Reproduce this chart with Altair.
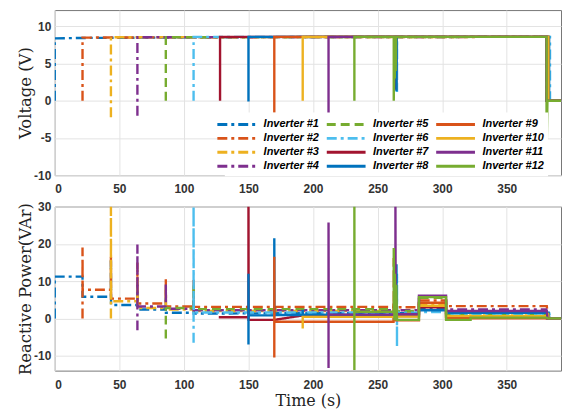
import altair as alt
import pandas as pd

inverters = [f"Inverter #{k}" for k in range(1, 13)]
colors = ["#0072BD", "#D95319", "#EDB120", "#7E2F8E", "#77AC30", "#4DBEEE",
          "#A2142F", "#0072BD", "#D95319", "#EDB120", "#7E2F8E", "#77AC30"]
dashdot = [10, 4, 3, 4]
dashed = [9, 5]
solid = [1, 0]
dashes = [dashdot, dashdot, dashdot, dashdot, dashed, dashdot,
          solid, solid, solid, solid, solid, solid]

x_ticks = [0, 50, 100, 150, 200, 250, 300, 350]
v_ticks = [-10, -5, 0, 5, 10]
q_ticks = [-10, 0, 10, 20, 30]

# ---- Voltage (V): (time, value) per inverter ----
voltage_1 = [(0, 0), (0, 8.4), (21.5, 8.45), (128, 8.55), (264.4, 8.6), (264.4, 1.4), (264.5, 8.6),
             (381.5, 8.6), (381.5, 0), (392, 0)]
voltage_2 = [(21.5, 0), (21.5, 8.5), (128, 8.55), (382, 8.6), (382, 0), (392, 0)]
voltage_3 = [(43.5, -2.2), (43.5, 8.55), (382.5, 8.6), (382.5, 0), (392, 0)]
voltage_4 = [(64, -2.0), (64, 8.55), (380.6, 8.6), (380.6, 0), (392, 0)]
voltage_5 = [(86, 0), (86, 8.55), (382, 8.6), (382, 0), (392, 0)]
voltage_6 = [(107.5, 0), (107.5, 8.6), (265, 8.6), (265, 1.2), (265.1, 8.6), (383.5, 8.6), (383.5, 0), (392, 0)]
voltage_7 = [(128, 0), (128, 8.6), (264.3, 8.6), (264.3, 1.5), (264.4, 8.6), (381, 8.6), (381, 0), (392, 0)]
voltage_8 = [(150, -0.1), (150, 8.6), (264.6, 8.6), (264.6, 1.3), (264.7, 8.6), (382.8, 8.6), (382.8, 0), (392, 0)]
voltage_9 = [(170, -1.6), (170, 8.6), (382, 8.6), (382, 0), (392, 0)]
voltage_10 = [(192, 0), (192, 8.6), (382.2, 8.6), (382.2, 0), (392, 0)]
voltage_11 = [(212, -1.9), (212, 8.6), (380.6, 8.6), (380.6, 0), (392, 0)]
voltage_12 = [(232, 0), (232, 8.6), (262.5, 8.6), (262.5, 0), (263, 8.6), (263.3, 3), (263.6, 8.6),
              (264, 4), (264.3, 8.6), (380.8, 8.6), (380.8, -7.6), (381.5, 0), (392, 0)]

# ---- Reactive power (VAr): (time, value) per inverter ----
reactive_1 = [(0, 0), (0, 11.2), (21.5, 11.2), (21.5, 5.8), (43.5, 5.8), (43.5, 15.5), (43.6, 3.6), (64, 3.6),
              (64, 9), (64.1, 2.4), (86, 2.4), (86, 6), (86.1, 1.5), (107.5, 1.5), (107.5, 5), (107.6, 1.3),
              (192, 1.4), (262.8, 1.4), (262.8, 15), (262.9, 1.4), (282, 1.4), (282, 2.5), (303, 2.5),
              (303, 1.8), (381.5, 1.5), (382, 0), (392, 0)]
reactive_2 = [(21.5, 0), (21.5, 19), (21.6, 7.7), (43.5, 7.7), (43.5, 16.5), (43.6, 5.3), (64, 5.3), (64, 15),
              (64.1, 4.0), (86, 4.0), (86, 10.8), (86.1, 3.2), (107.5, 3.2), (107.5, 10.5), (107.6, 3.1),
              (262.5, 3.1), (262.5, 16.2), (262.6, 3.0), (282, 3.0), (282, 4.8), (303, 4.8), (303, 3.3),
              (381, 3.3), (382, 0), (392, 0)]
reactive_3 = [(43.5, 0), (43.5, 30), (43.6, 4.6), (64, 4.6), (64, 10.5), (64.1, 2.8), (86, 2.8), (86, 8),
              (86.1, 2.4), (107.5, 2.4), (107.5, 3), (107.6, 2.0), (263, 2.0), (263, 6), (263.1, 1.8),
              (282, 1.8), (282, 3.8), (303, 3.8), (303, 0.8), (381, 0.8), (382, 0), (392, 0)]
reactive_4 = [(64, -3.2), (64, 19.8), (64.1, 3.2), (86, 3.2), (86, 9.5), (86.1, 2.6), (107.5, 2.6),
              (107.5, 5), (107.6, 2.2), (263.2, 2.2), (263.2, 8), (263.3, 2.2), (282, 2.2), (282, 5.9),
              (303, 5.9), (303, 2.4), (380.6, 2.4), (381, 0), (392, 0)]
reactive_5 = [(86, -5.4), (86, 3.0), (86.1, 2.8), (107.5, 2.8), (107.5, 9), (107.6, 2.5), (263.4, 2.5),
              (263.4, 10), (263.5, 2.0), (282, 2.0), (282, 5.5), (303, 5.5), (303, 1.0), (382, 1.0),
              (382.5, 0), (392, 0)]
reactive_6 = [(107.5, -6.5), (107.5, 30), (107.6, 1.6), (265, 1.6), (265, -7.6), (265, 12), (265.1, 1.5),
              (282, 1.5), (282, 1.7), (303, 1.7), (303, 1.3), (383, 1.3), (383.5, 0), (392, 0)]
reactive_7 = [(127, 0.3), (150, 0.3), (150, 30), (150.1, -0.4), (170, -0.4), (192, 0.8), (263.6, 0.8),
              (263.6, 8), (263.7, 0.6), (282, 0.6), (282, 3.0), (303, 3.0), (303, 0.4), (381, 0.4),
              (381.5, 0), (392, 0)]
reactive_8 = [(150, -7), (150, 12), (150.1, 0.8), (170, 0.8), (170, 21.5), (170.1, 0.9), (192, 0.9),
              (192, 2.3), (192.1, 1.0), (264.6, 1.0), (264.6, 14.5), (264.7, 1.2), (282, 1.2), (282, 2.2),
              (303, 2.2), (303, 1.5), (382.5, 1.5), (383, 0), (392, 0)]
reactive_9 = [(170, -10.5), (170, 16.5), (170.1, -0.9), (262.3, -0.9), (262.3, 4), (262.4, -0.5),
              (282, -0.5), (282, 4.2), (303, 4.2), (303, 0.0), (392, 0)]
reactive_10 = [(192, -2.7), (192, 0.4), (263, 0.4), (263, 5), (263.1, 0.5), (282, 0.5), (282, 3.4),
               (303, 3.4), (303, 0.6), (381.5, 0.6), (382, 1.5), (382.5, 0), (392, 0)]
reactive_11 = [(212, -13.3), (212, 25.7), (212.1, 1.0), (263.8, 1.0), (263.8, 30), (264, 1.1), (282, 1.1),
               (282, 6.1), (303, 6.1), (303, 2.0), (381, 2.0), (381.5, 0), (392, 0)]
reactive_12 = [(232, -13.8), (232, 30), (232.1, 1.8), (262.5, 1.8), (262.5, 18.9), (263, -0.5), (263.3, 12),
               (264, -0.4), (264.5, 9), (265, -0.4), (282, -0.4), (282, 5.7), (303, 5.7), (303, -0.4),
               (322, -0.4), (322, 0.2), (381, 0.2), (381.5, 0), (392, 0)]

voltage = [voltage_1, voltage_2, voltage_3, voltage_4, voltage_5, voltage_6,
           voltage_7, voltage_8, voltage_9, voltage_10, voltage_11, voltage_12]
reactive = [reactive_1, reactive_2, reactive_3, reactive_4, reactive_5, reactive_6,
            reactive_7, reactive_8, reactive_9, reactive_10, reactive_11, reactive_12]


def to_frame(series):
    rows = []
    for k, pts in enumerate(series):
        for i, (t, v) in enumerate(pts):
            rows.append({"inv": inverters[k], "seq": i, "t": t, "val": v})
    return pd.DataFrame(rows)


dfv = to_frame(voltage)
dfq = to_frame(reactive)

title_font = "DejaVu Serif"


def panel(df, ydomain, yticks, ytitle, xaxis, height, legend):
    layers = []
    for k in range(12):
        enc = dict(
            x=alt.X("t:Q", scale=alt.Scale(domain=[0, 392], nice=False, zero=False), axis=xaxis),
            y=alt.Y("val:Q", scale=alt.Scale(domain=ydomain, nice=False, zero=False),
                    axis=alt.Axis(values=yticks, title=ytitle, labelExpr="datum.value", titlePadding=0)),
            color=alt.Color("inv:N", scale=alt.Scale(domain=inverters, range=colors), legend=legend),
            strokeDash=alt.StrokeDash("inv:N", scale=alt.Scale(domain=inverters, range=dashes), legend=legend),
            order=alt.Order("seq:Q"),
        )
        layers.append(
            alt.Chart(df)
            .transform_filter(alt.datum.inv == inverters[k])
            .mark_line(strokeWidth=2.4, clip=True)
            .encode(**enc)
        )
    return alt.layer(*layers).properties(width=509, height=height)


leg = alt.Legend(orient="none", legendX=171, legendY=103, columns=3, symbolType="M-3,0H3",
                 symbolSize=169, symbolStrokeWidth=3, labelFont="Liberation Sans",
                 labelFontStyle="italic", labelFontWeight="bold", labelFontSize=11,
                 labelColor="black", title=None, fillColor="white", padding=4,
                 rowPadding=0, columnPadding=1, labelOffset=19)

top_x = alt.Axis(values=x_ticks, title=None, labelPadding=8)
bottom_x = alt.Axis(values=x_ticks, title="Time (s)", labelPadding=9, titlePadding=2, titleFontSize=16)

top = panel(dfv, [-10, 12.2], v_ticks, "Voltage (V)", top_x, 166, leg)
bottom = panel(dfq, [-14, 30], q_ticks, "Reactive Power(VAr)", bottom_x, 165, None)

chart = (
    alt.vconcat(top, bottom, spacing=4.5)
    .resolve_legend(color="independent", strokeDash="independent")
    .properties(padding={"left": 9, "top": 0, "right": 0, "bottom": 0})
    .configure_view(stroke="#777777", strokeWidth=1)
    .configure_axis(
        grid=True, gridColor="#e3e3e3", gridWidth=1, domain=False, ticks=False,
        labelFont="Liberation Sans", labelFontWeight="bold", labelFontSize=12, labelColor="#333333",
        labelPadding=4, titleFont=title_font, titleFontWeight="normal", titleFontSize=16.5,
        titleColor="#222222",
    )
)

chart.save("out.html", embed_options={"renderer": "svg", "actions": False})
